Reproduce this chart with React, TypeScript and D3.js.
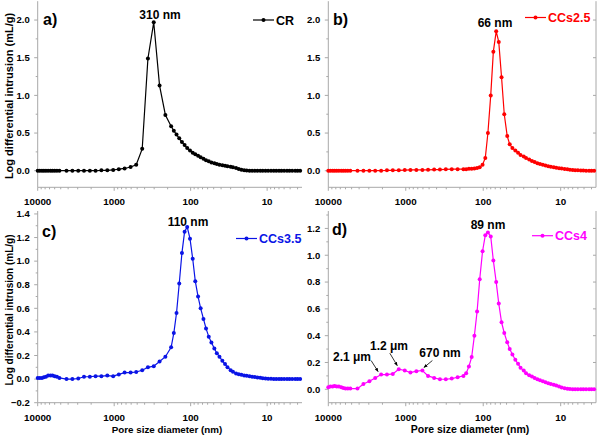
import React from 'react';
import * as d3 from 'd3';

// pore diameters (nm) of the intrusion steps, shared by all four samples
const diameters = [
  10000, 9400, 8800, 8300, 7800, 7300, 6800, 6400, 6000, 5600, 5200,
  4200, 3520, 2950, 2480, 2080, 1750, 1470, 1230, 1030, 870, 730, 610, 515, 430, 362, 304, 255, 214, 180,
  166, 153, 141, 130, 120, 111, 102, 94, 87, 80,
  74, 68, 63, 58, 53.5, 49, 45.5, 42, 38.5, 35.5,
  33, 30, 28, 25.5, 23.5, 21.7, 20, 18.5, 17, 15.7,
  14.5, 13.4, 12.3, 11.4, 10.5, 9.7, 8.9, 8.2, 7.6, 7.0,
  6.5, 6.0, 5.5, 5.1, 4.7, 4.3, 4.0, 3.7,
];

const crValues = [
  0, 0, 0, 0, 0, 0, 0, 0, 0, 0, 0,
  0, 0, 0, 0, 0, 0, 0.005, 0.005, 0.01, 0.02, 0.03, 0.05, 0.08, 0.29, 1.49, 1.97, 1.13, 0.74, 0.59,
  0.53, 0.48, 0.43, 0.38, 0.34, 0.3, 0.27, 0.24, 0.22, 0.2,
  0.18, 0.16, 0.14, 0.125, 0.11, 0.1, 0.09, 0.08, 0.072, 0.065,
  0.058, 0.052, 0.045, 0.035, 0.022, 0.012, 0.005, 0.002, 0, 0,
  0, 0, 0, 0, 0, 0, 0, 0, 0, 0,
  0, 0, 0, 0, 0, 0, 0, 0,
];

const ccs25Values = [
  0, 0, 0, 0, 0, 0, 0, 0, 0, 0, 0,
  0, 0, 0, 0, 0, 0.005, 0.005, 0.005, 0.008, 0.01, 0.01, 0.01, 0.012, 0.015, 0.015, 0.018, 0.02, 0.02, 0.02,
  0.02, 0.025, 0.025, 0.03, 0.035, 0.045, 0.08, 0.17, 0.5, 1.0,
  1.58, 1.85, 1.71, 1.24, 0.75, 0.46, 0.35, 0.3, 0.27, 0.24,
  0.21, 0.19, 0.17, 0.15, 0.13, 0.115, 0.1, 0.09, 0.08, 0.07,
  0.06, 0.052, 0.045, 0.04, 0.034, 0.028, 0.023, 0.018, 0.014, 0.01,
  0.007, 0.005, 0.003, 0.002, 0.001, 0, 0, 0,
];

const ccs35Values = [
  0.01, 0.01, 0.01, 0.015, 0.02, 0.03, 0.03, 0.03, 0.025, 0.02, 0.01,
  0, 0, 0.005, 0.02, 0.02, 0.025, 0.025, 0.03, 0.025, 0.04, 0.055, 0.055, 0.06, 0.075, 0.1, 0.11, 0.15, 0.19, 0.27,
  0.39, 0.56, 0.81, 1.07, 1.25, 1.29, 1.19, 1.02, 0.83, 0.7,
  0.6, 0.51, 0.43, 0.36, 0.31, 0.26, 0.22, 0.19, 0.155, 0.127,
  0.1, 0.076, 0.062, 0.048, 0.042, 0.037, 0.031, 0.028, 0.025, 0.02,
  0.017, 0.014, 0.011, 0.008, 0.006, 0.004, 0.002, 0.001, 0, 0,
  0, 0, 0, 0, 0, 0, 0, 0,
];

const ccs4Values = [
  0.015, 0.02, 0.02, 0.025, 0.02, 0.02, 0.015, 0.01, 0.005, 0.005, 0.005,
  0.005, 0.04, 0.06, 0.085, 0.11, 0.11, 0.115, 0.15, 0.14, 0.125, 0.135, 0.14, 0.1, 0.085, 0.075, 0.075, 0.08, 0.09, 0.1,
  0.12, 0.17, 0.24, 0.4, 0.58, 0.82, 1.03, 1.15, 1.17, 1.14,
  0.96, 0.8, 0.64, 0.5, 0.42, 0.35, 0.3, 0.26, 0.22, 0.19,
  0.16, 0.14, 0.12, 0.105, 0.095, 0.085, 0.075, 0.068, 0.06, 0.053,
  0.046, 0.04, 0.034, 0.028, 0.02, 0.013, 0.007, 0.004, 0.002, 0,
  0, 0, 0, 0, 0, 0, 0, 0,
];

const xMajorTicks = [10000, 1000, 100, 10];
const yTicksAB = [0, 0.5, 1.0, 1.5, 2.0];
const yTicksC = [-0.2, 0, 0.2, 0.4, 0.6, 0.8, 1.0, 1.2, 1.4];
const yTicksD = [0, 0.2, 0.4, 0.6, 0.8, 1.0, 1.2];

// CCs4 shoulders: [label, diameter of the pointed step]
const shoulderLabels = ['2.1 \u03bcm', '1.2 \u03bcm', '670 nm'];
const shoulderDiameters = [2080, 1230, 610];

const FONT = '"Liberation Sans", Arial, Helvetica, sans-serif';
const AXIS = '#a8a8a8';

type Spec = {
  values: number[];
  color: string;
  x0: number; x1: number; top: number; bottom: number;
  yDomain: [number, number];
  yTicks: number[];
  tag: string; tagX: number; tagY: number;
  legend: string; legX: number; legY: number;
  peak: string; peakX: number; peakY: number;
  rightAxis: boolean;
  yTitle?: { y: number; size: number };
  xTitle?: { x: number; size: number };
};

const specs: Spec[] = [
  { values: crValues, color: '#000000', x0: 37.7, x1: 302, top: 1.2, bottom: 187.3, yDomain: [-0.22, 2.25], yTicks: yTicksAB,
    tag: 'a)', tagX: 43, tagY: 25, legend: 'CR', legX: 253, legY: 20, peak: '310 nm', peakX: 160, peakY: 19, rightAxis: false,
    yTitle: { y: 96, size: 11 } },
  { values: ccs25Values, color: '#ff0000', x0: 328.3, x1: 596, top: 1.2, bottom: 187.3, yDomain: [-0.22, 2.25], yTicks: yTicksAB,
    tag: 'b)', tagX: 333, tagY: 25, legend: 'CCs2.5', legX: 525, legY: 17.5, peak: '66 nm', peakX: 495, peakY: 26.5, rightAxis: true },
  { values: ccs35Values, color: '#0a14e6', x0: 37.7, x1: 302, top: 211, bottom: 402.7, yDomain: [-0.2, 1.425], yTicks: yTicksC,
    tag: 'c)', tagX: 42, tagY: 237, legend: 'CCs3.5', legX: 236, legY: 238.5, peak: '110 nm', peakX: 188, peakY: 225.5, rightAxis: false,
    yTitle: { y: 310, size: 10 }, xTitle: { x: 167, size: 9.8 } },
  { values: ccs4Values, color: '#ff00ff', x0: 328.3, x1: 596, top: 211, bottom: 402.7, yDomain: [-0.1, 1.33], yTicks: yTicksD,
    tag: 'd)', tagX: 332, tagY: 235, legend: 'CCs4', legX: 532, legY: 235.7, peak: '89 nm', peakX: 488, peakY: 228.5, rightAxis: true,
    xTitle: { x: 470, size: 10.5 } },
];

const fmtY = (v: number) => (Math.abs(v) < 1e-9 ? '0.0' : d3.format('.1f')(v));

function Panel({ s, children }: { s: Spec; children?: (x: any, y: any) => React.ReactNode }) {
  const x = d3.scaleLog().domain([10000, 3.5]).range([s.x0, s.x1]);
  const y = d3.scaleLinear().domain(s.yDomain).range([s.bottom, s.top]);
  const pts = diameters.map((d, i) => [x(d), y(s.values[i])] as [number, number]);
  const path = d3.line()(pts) || '';
  const isMajor = (t: number) => Math.abs(Math.log10(t) - Math.round(Math.log10(t))) < 1e-9;
  const xMinor = x.ticks().filter((t) => !isMajor(t));
  const yMinor: number[] = [];
  for (let i = 0; i < s.yTicks.length - 1; i++) yMinor.push((s.yTicks[i] + s.yTicks[i + 1]) / 2);
  const step = s.yTicks[1] - s.yTicks[0];
  const extra = s.yTicks[s.yTicks.length - 1] + step / 2;
  if (extra < s.yDomain[1]) yMinor.push(extra);
  const below = s.yTicks[0] - step / 2;
  if (below > s.yDomain[0]) yMinor.push(below);

  return (
    <g fontFamily={FONT} fontWeight="bold">
      {/* axes */}
      <line x1={s.x0} x2={s.x0} y1={s.top} y2={s.bottom} stroke={AXIS} strokeWidth={1} />
      <line x1={s.x0} x2={s.x1} y1={s.bottom} y2={s.bottom} stroke={AXIS} strokeWidth={1} />
      {s.rightAxis && <line x1={s.x1} x2={s.x1} y1={s.top} y2={s.bottom} stroke={AXIS} strokeWidth={1} />}
      {xMajorTicks.map((t) => (
        <g key={'xm' + t}>
          <line x1={x(t)} x2={x(t)} y1={s.bottom} y2={s.bottom + 3.5} stroke={AXIS} />
          <text x={x(t)} y={s.bottom + 18} textAnchor="middle" fontSize={9.8} fill="#000">{t}</text>
        </g>
      ))}
      {xMinor.map((t) => (
        <line key={'xn' + t} x1={x(t)} x2={x(t)} y1={s.bottom} y2={s.bottom + 2} stroke={AXIS} />
      ))}
      {s.yTicks.map((t) => (
        <g key={'ym' + t}>
          <line x1={s.x0 - 3.5} x2={s.x0} y1={y(t)} y2={y(t)} stroke={AXIS} />
          {s.rightAxis && <line x1={s.x1 - 3} x2={s.x1} y1={y(t)} y2={y(t)} stroke={AXIS} />}
          <text x={s.x0 - 8} y={y(t)} dy="0.35em" textAnchor="end" fontSize={9.5} fill="#000">{fmtY(t)}</text>
        </g>
      ))}
      {yMinor.map((t) => (
        <line key={'yn' + t} x1={s.x0 - 2} x2={s.x0} y1={y(t)} y2={y(t)} stroke={AXIS} />
      ))}
      {/* series */}
      <path d={path} fill="none" stroke={s.color} strokeWidth={1.2} />
      {pts.map((p, i) => (
        <circle key={i} cx={p[0]} cy={p[1]} r={2} fill={s.color} />
      ))}
      {/* legend */}
      <line x1={s.legX} x2={s.legX + 21} y1={s.legY} y2={s.legY} stroke={s.color} strokeWidth={1.2} />
      <circle cx={s.legX + 10.5} cy={s.legY} r={2} fill={s.color} />
      <text x={s.legX + 23} y={s.legY} dy="0.36em" fontSize={12.5} fill={s.color}>{s.legend}</text>
      {/* labels */}
      <text x={s.tagX} y={s.tagY} fontSize={16} fill="#000">{s.tag}</text>
      <text x={s.peakX} y={s.peakY} textAnchor="middle" fontSize={12} fill="#000">{s.peak}</text>
      {s.yTitle && (
        <text transform={`translate(13,${s.yTitle.y}) rotate(-90)`} textAnchor="middle" fontSize={s.yTitle.size} fill="#000">
          Log differential intrusion (mL/g)
        </text>
      )}
      {s.xTitle && (
        <text x={s.xTitle.x} y={433} textAnchor="middle" fontSize={s.xTitle.size} fill="#000">
          Pore size diameter (nm)
        </text>
      )}
      {children && children(x, y)}
    </g>
  );
}

export default function App() {
  const d = specs[3];
  // text anchors (centre, baseline) and arrow start offsets relative to the pointed step
  const labelPos = [
    { tx: 352, ty: 361, sx: -10, sy: -14, ex: -3, ey: -3 },
    { tx: 389, ty: 350, sx: -9, sy: -16, ex: -1.5, ey: -3.5 },
    { tx: 440, ty: 357, sx: 10, sy: -10, ex: 1.5, ey: -3 },
  ];
  return (
    <svg width={600} height={436} style={{ position: 'absolute', left: 0, top: 0, background: '#fff' }}>
      <defs>
        <marker id="arr" viewBox="0 0 10 10" refX="9" refY="5" markerWidth="5" markerHeight="5" orient="auto">
          <path d="M0,1 L10,5 L0,9 Z" fill="#000" />
        </marker>
      </defs>
      <rect width={600} height={436} fill="#fff" />
      {specs.slice(0, 3).map((s, i) => (
        <Panel key={i} s={s} />
      ))}
      <Panel s={d}>
        {(x, y) =>
          shoulderDiameters.map((dd, i) => {
            const idx = diameters.indexOf(dd);
            const px = x(dd);
            const py = y(d.values[idx]);
            const lp = labelPos[i];
            return (
              <g key={i}>
                <text x={lp.tx} y={lp.ty} textAnchor="middle" fontSize={12} fill="#000">
                  {shoulderLabels[i]}
                </text>
                <line x1={px + lp.sx} y1={py + lp.sy} x2={px + lp.ex} y2={py + lp.ey} stroke="#000" strokeWidth={0.8} markerEnd="url(#arr)" />
              </g>
            );
          })
        }
      </Panel>
    </svg>
  );
}
